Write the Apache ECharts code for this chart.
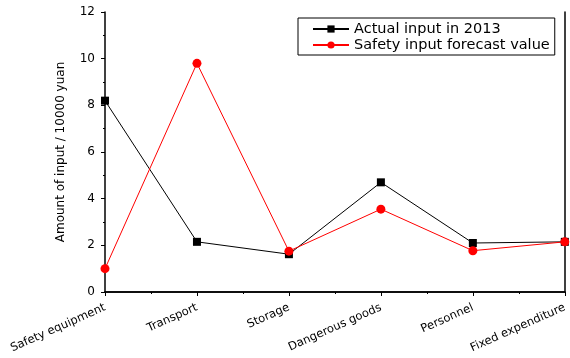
<!DOCTYPE html>
<html><head><meta charset="utf-8">
<script src="https://cdn.jsdelivr.net/npm/echarts@6/dist/echarts.min.js"></script>
<style>html,body{margin:0;padding:0;background:#fff}#c{width:570px;height:358px}</style>
</head><body><div id="c"></div>
<script>
var categories = ["Safety equipment","Transport","Storage","Dangerous goods","Personnel","Fixed expenditure"];
var actual2013 = [8.2, 2.15, 1.62, 4.7, 2.1, 2.15];
var forecast = [1.0, 9.8, 1.75, 3.55, 1.77, 2.15];
var yTicks = [0, 2, 4, 6, 8, 10, 12];
var seriesNames = ["Actual input in 2013", "Safety input forecast value"];

var font = "DejaVu Sans, sans-serif";
var chart = echarts.init(document.getElementById('c'));
var axisLine = {show:true, lineStyle:{color:'#000', width:1.5}};
chart.setOption({
  animation:false,
  backgroundColor:'#fff',
  grid:{left:105, right:2, top:12, bottom:66, containLabel:false},
  legend:{
    show:true, orient:'vertical', left:298, top:18,
    itemWidth:36, itemHeight:9, itemGap:0,
    padding:[3,5,2,14],
    borderColor:'#000', borderWidth:1,
    textStyle:{fontFamily:font, fontSize:14.5, color:'#000', lineHeight:16},
    data: seriesNames
  },
  xAxis:[{
    type:'category', data:categories, boundaryGap:false,
    axisLine:axisLine,
    axisTick:{show:true, inside:false, length:4, lineStyle:{color:'#000'}},
    axisLabel:{rotate:24, fontFamily:font, fontSize:11.5, color:'#000', margin:15, interval:0},
    splitLine:{show:false}
  },{
    type:'category', data:categories, boundaryGap:false, position:'top',
    axisLine:axisLine,
    axisTick:{show:true, inside:true, length:2, lineStyle:{color:'#000'}},
    axisLabel:{show:false}, splitLine:{show:false}
  },{
    type:'value', min:0, max:(categories.length-1)*2, interval:1, position:'bottom',
    axisLine:{show:false},
    axisTick:{show:true, inside:false, length:2, lineStyle:{color:'#000'}},
    axisLabel:{show:false}, splitLine:{show:false}
  }],
  yAxis:[{
    type:'value', min:yTicks[0], max:yTicks[yTicks.length-1], interval:2,
    name:'Amount of input / 10000 yuan', nameLocation:'middle', nameGap:38,
    nameTextStyle:{fontFamily:font, fontSize:12, color:'#000'},
    axisLine:axisLine,
    axisTick:{show:true, inside:false, length:4, lineStyle:{color:'#000'}},
    minorTick:{show:true, splitNumber:2, length:2, lineStyle:{color:'#000'}},
    axisLabel:{fontFamily:font, fontSize:12, color:'#000', margin:10},
    splitLine:{show:false}
  },{
    type:'value', min:yTicks[0], max:yTicks[yTicks.length-1], interval:2, position:'right',
    axisLine:axisLine,
    axisTick:{show:false},
    axisLabel:{show:false}, splitLine:{show:false}
  }],
  series:[{
    name:seriesNames[0], type:'line', data:actual2013,
    symbol:'rect', symbolSize:8,
    itemStyle:{color:'#000'}, lineStyle:{color:'#000', width:1}
  },{
    name:seriesNames[1], type:'line', data:forecast,
    symbol:'circle', symbolSize:9,
    itemStyle:{color:'#f00'}, lineStyle:{color:'#f00', width:1}
  }]
});
</script></body></html>
